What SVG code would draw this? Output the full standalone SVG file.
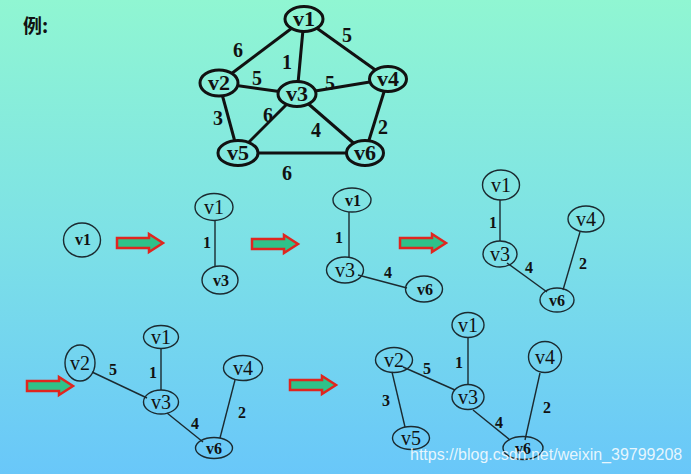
<svg xmlns="http://www.w3.org/2000/svg" width="691" height="474" viewBox="0 0 691 474">
<defs>
<linearGradient id="bg" gradientUnits="userSpaceOnUse" x1="0" y1="0" x2="0" y2="474">
<stop offset="0" stop-color="#90f6d2"/>
<stop offset="0.5" stop-color="#7de1e6"/>
<stop offset="1" stop-color="#69c7f9"/>
</linearGradient>
<path id="arrow" d="M0,-5 H32 V-9 L46,0 L32,9 V5 H0 Z"/>
</defs>
<style>
.et{stroke:#111;stroke-width:3;fill:none}
.nt{fill:url(#bg);stroke:#111;stroke-width:3}
.tt{font-family:"Liberation Serif",serif;font-weight:bold;font-size:22px;fill:#111;text-anchor:middle}
.lt{font-family:"Liberation Serif",serif;font-weight:bold;font-size:20px;fill:#111;text-anchor:middle}
.e{stroke:#1b2a30;stroke-width:1.4;fill:none}
.n{fill:none;stroke:#1b2a30;stroke-width:1.4}
.tb{font-family:"Liberation Serif",serif;font-weight:bold;font-size:16px;fill:#111;text-anchor:middle}
.tr{font-family:"Liberation Serif",serif;font-size:20px;fill:#111;text-anchor:middle}
.lb{font-family:"Liberation Serif",serif;font-weight:bold;font-size:16px;fill:#111;text-anchor:middle}
.ar{fill:#2fc28a;stroke:#e0251f;stroke-width:2.5;stroke-linejoin:miter}
.wm{font-family:"Liberation Sans",sans-serif;font-size:16px;fill:#ffffff;fill-opacity:0.85}
</style>
<rect x="0" y="0" width="691" height="474" fill="url(#bg)"/>
<text x="23" y="33" style="font-family:'Noto Sans CJK SC',sans-serif;font-weight:bold;font-size:19px;fill:#111">例:</text>

<g id="connectors">
<!-- top graph -->
<line class="et" x1="304" y1="19" x2="219" y2="83"/>
<line class="et" x1="304" y1="19" x2="297" y2="94"/>
<line class="et" x1="304" y1="19" x2="388" y2="79"/>
<line class="et" x1="219" y1="83" x2="297" y2="94"/>
<line class="et" x1="297" y1="94" x2="388" y2="79"/>
<line class="et" x1="219" y1="83" x2="238" y2="153"/>
<line class="et" x1="297" y1="94" x2="238" y2="153"/>
<line class="et" x1="297" y1="94" x2="365" y2="153"/>
<line class="et" x1="388" y1="79" x2="365" y2="153"/>
<line class="et" x1="238" y1="153" x2="365" y2="153"/>
<!-- step 1 -->
<line class="e" x1="215" y1="220" x2="215" y2="266"/>
<!-- step 2 -->
<line class="e" x1="349" y1="212" x2="349" y2="257"/>
<line class="e" x1="358" y1="275" x2="407" y2="288"/>
<!-- step 3 -->
<line class="e" x1="500" y1="200" x2="500" y2="241"/>
<line class="e" x1="507" y1="263" x2="547" y2="292"/>
<line class="e" x1="580" y1="232" x2="563" y2="290"/>
<!-- step 4 -->
<line class="e" x1="92" y1="372" x2="147" y2="398"/>
<line class="e" x1="161" y1="348" x2="161" y2="390"/>
<line class="e" x1="167" y1="413" x2="203" y2="442"/>
<line class="e" x1="235" y1="380" x2="220" y2="438"/>
<!-- step 5 -->
<line class="e" x1="468" y1="337" x2="468" y2="385"/>
<line class="e" x1="403" y1="367" x2="455" y2="390"/>
<line class="e" x1="392" y1="372" x2="405" y2="427"/>
<line class="e" x1="473" y1="410" x2="510" y2="440"/>
<line class="e" x1="540" y1="373" x2="525" y2="440"/>
</g>

<g id="edge-labels">
<text class="lt" x="238" y="57">6</text>
<text class="lt" x="347" y="42">5</text>
<text class="lt" x="287" y="69">1</text>
<text class="lt" x="257" y="85">5</text>
<text class="lt" x="330" y="90">5</text>
<text class="lt" x="218" y="125">3</text>
<text class="lt" x="268" y="122">6</text>
<text class="lt" x="316" y="137">4</text>
<text class="lt" x="383" y="134">2</text>
<text class="lt" x="287" y="180">6</text>
<text class="lb" x="207" y="248">1</text>
<text class="lb" x="339" y="243">1</text>
<text class="lb" x="388" y="278">4</text>
<text class="lb" x="493" y="228">1</text>
<text class="lb" x="529" y="273">4</text>
<text class="lb" x="583" y="269">2</text>
<text class="lb" x="113" y="375">5</text>
<text class="lb" x="153" y="378">1</text>
<text class="lb" x="195" y="429">4</text>
<text class="lb" x="242" y="418">2</text>
<text class="lb" x="427" y="374">5</text>
<text class="lb" x="459" y="368">1</text>
<text class="lb" x="386" y="406">3</text>
<text class="lb" x="499" y="428">4</text>
<text class="lb" x="547" y="413">2</text>
</g>

<g id="arrows">
<use href="#arrow" class="ar" x="117" y="243"/>
<use href="#arrow" class="ar" x="252" y="244"/>
<use href="#arrow" class="ar" x="400" y="243"/>
<use href="#arrow" class="ar" x="27" y="386"/>
<use href="#arrow" class="ar" x="290" y="385"/>
</g>

<!-- top graph nodes -->
<g id="top-v1"><ellipse class="nt" cx="304" cy="19" rx="19" ry="12.5"/><text class="tt" x="304" y="26">v1</text></g>
<g id="top-v2"><ellipse class="nt" cx="219" cy="83" rx="19" ry="13"/><text class="tt" x="219" y="90">v2</text></g>
<g id="top-v3"><ellipse class="nt" cx="297" cy="94" rx="19" ry="12.5"/><text class="tt" x="297" y="101">v3</text></g>
<g id="top-v4"><ellipse class="nt" cx="388" cy="79" rx="18.5" ry="12.5"/><text class="tt" x="388" y="86">v4</text></g>
<g id="top-v5"><ellipse class="nt" cx="238" cy="153" rx="20" ry="12.5"/><text class="tt" x="238" y="160">v5</text></g>
<g id="top-v6"><ellipse class="nt" cx="365" cy="153" rx="18.5" ry="12.5"/><text class="tt" x="365" y="160">v6</text></g>

<!-- step 0 -->
<g id="s0-v1"><ellipse class="n" cx="82" cy="240" rx="18.5" ry="17"/><text class="tb" x="83" y="245">v1</text></g>
<!-- step 1 -->
<g id="s1-v1"><ellipse class="n" cx="214" cy="207" rx="19" ry="13.5"/><text class="tr" x="214" y="214">v1</text></g>
<g id="s1-v3"><ellipse class="n" cx="220" cy="280" rx="18" ry="14"/><text class="tb" x="221" y="286">v3</text></g>
<!-- step 2 -->
<g id="s2-v1"><ellipse class="n" cx="352" cy="200" rx="19" ry="12"/><text class="tb" x="353" y="206">v1</text></g>
<g id="s2-v3"><ellipse class="n" cx="345" cy="270" rx="18.5" ry="13"/><text class="tr" x="345" y="277">v3</text></g>
<g id="s2-v6"><ellipse class="n" cx="424" cy="289" rx="18.5" ry="13"/><text class="tb" x="425" y="295">v6</text></g>
<!-- step 3 -->
<g id="s3-v1"><ellipse class="n" cx="501" cy="185" rx="18.5" ry="15"/><text class="tr" x="501" y="192">v1</text></g>
<g id="s3-v3"><ellipse class="n" cx="500" cy="254" rx="17" ry="13"/><text class="tr" x="500" y="261">v3</text></g>
<g id="s3-v4"><ellipse class="n" cx="586" cy="219" rx="18" ry="13"/><text class="tr" x="586" y="226">v4</text></g>
<g id="s3-v6"><ellipse class="n" cx="557" cy="300" rx="17" ry="12"/><text class="tb" x="557" y="306">v6</text></g>
<!-- step 4 -->
<g id="s4-v2"><ellipse class="n" cx="80" cy="363" rx="15" ry="18"/><text class="tr" x="80" y="370">v2</text></g>
<g id="s4-v1"><ellipse class="n" cx="161" cy="337" rx="17.5" ry="11.5"/><text class="tr" x="161" y="344">v1</text></g>
<g id="s4-v3"><ellipse class="n" cx="161" cy="402" rx="17.5" ry="12"/><text class="tr" x="161" y="409">v3</text></g>
<g id="s4-v4"><ellipse class="n" cx="243" cy="368" rx="19.5" ry="12.5"/><text class="tr" x="243" y="375">v4</text></g>
<g id="s4-v6"><ellipse class="n" cx="214" cy="448" rx="18.5" ry="10.5"/><text class="tb" x="214" y="454">v6</text></g>
<!-- step 5 -->
<g id="s5-v1"><ellipse class="n" cx="468" cy="325" rx="16" ry="12.5"/><text class="tr" x="468" y="332">v1</text></g>
<g id="s5-v2"><ellipse class="n" cx="394" cy="360" rx="18.5" ry="12.5"/><text class="tr" x="394" y="367">v2</text></g>
<g id="s5-v3"><ellipse class="n" cx="468" cy="397" rx="16" ry="12.5"/><text class="tr" x="468" y="404">v3</text></g>
<g id="s5-v4"><ellipse class="n" cx="545" cy="357" rx="16.5" ry="15.5"/><text class="tr" x="545" y="364">v4</text></g>
<g id="s5-v5"><ellipse class="n" cx="411" cy="438" rx="18.5" ry="11.5"/><text class="tr" x="411" y="445">v5</text></g>
<g id="s5-v6"><ellipse class="n" cx="523" cy="448" rx="20" ry="11.5"/><text class="tb" x="523" y="454">v6</text></g>

<text class="wm" x="410" y="460">https://blog.csdn.net/weixin_39799208</text>
</svg>
